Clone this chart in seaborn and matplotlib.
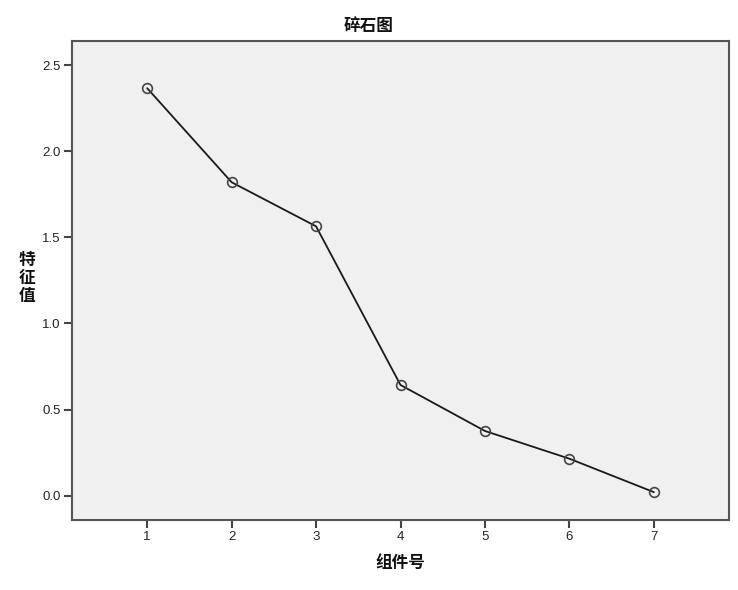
import matplotlib
matplotlib.use("Agg")
import matplotlib.pyplot as plt
import seaborn as sns

# scree plot data
components = [1, 2, 3, 4, 5, 6, 7]
eigenvalues = [2.366, 1.820, 1.564, 0.643, 0.376, 0.215, 0.021]
x_ticks = [1, 2, 3, 4, 5, 6, 7]
y_ticks = [0.0, 0.5, 1.0, 1.5, 2.0, 2.5]

sns.set_style("white")
plt.rcParams["font.family"] = ["Liberation Sans", "Noto Sans CJK SC", "DejaVu Sans"]

fig = plt.figure(figsize=(7.38, 5.90), dpi=100)
ax = fig.add_axes([0.0976, 0.1186, 0.8902, 0.8119])
ax.set_facecolor("#f0f0f0")

sns.lineplot(x=components, y=eigenvalues, ax=ax, color="#1a1a1a", linewidth=1.3,
             marker="o", markersize=7, markerfacecolor="none",
             markeredgecolor="#444444", markeredgewidth=1.2)

ax.set_xlim(0.11, 7.89)
ax.set_ylim(-0.141, 2.64)
ax.set_xticks(x_ticks)
ax.set_xticklabels([str(t) for t in x_ticks])
ax.set_yticks(y_ticks)
ax.set_yticklabels([f"{t:.1f}" for t in y_ticks])
ax.tick_params(axis="both", direction="out", length=6, width=1.5, color="#444444",
               labelsize=9.5, labelcolor="#222222", pad=2)
ax.tick_params(axis="both", left=True, bottom=True)

for side in ["left", "bottom", "right", "top"]:
    ax.spines[side].set_color("#555555")
    ax.spines[side].set_linewidth(1.5)
    ax.spines[side].set_visible(True)

ax.set_xlabel("")
ax.set_ylabel("")
cjk = ["Noto Sans CJK SC", "DejaVu Sans"]
fig.text(0.5, 0.956, "碎石图", ha="center", va="center", fontsize=12,
         fontweight="bold", family=cjk, color="#111111")
fig.text(0.5425, 0.046, "组件号", ha="center", va="center", fontsize=12,
         fontweight="bold", family=cjk, color="#111111")
fig.text(0.036, 0.528, "特\n征\n值", ha="center", va="center", fontsize=12,
         fontweight="bold", family=cjk, color="#111111", linespacing=1.0)

plt.savefig("out.png", dpi=100)
